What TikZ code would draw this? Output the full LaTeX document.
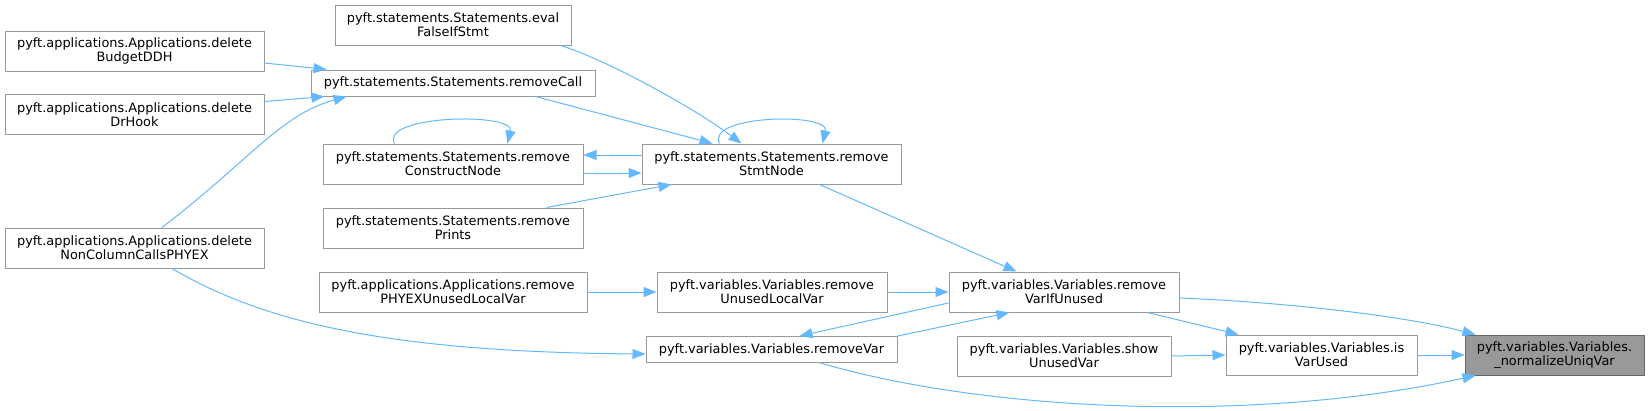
\documentclass[tikz,border=0pt]{standalone}
\usepackage{fontspec}
\setmainfont{DejaVu Sans}
\definecolor{dgedge}{RGB}{99,184,255}
\definecolor{dgborder}{RGB}{153,153,153}
\definecolor{dgdark}{RGB}{102,102,102}
\definecolor{dgfill}{RGB}{153,153,153}
\usetikzlibrary{arrows.meta,calc}

\begin{document}
\begin{tikzpicture}[x=1pt, y=-1pt,
    fn/.style={rectangle, draw=dgborder, fill=white, line width=1pt, inner sep=0pt,
      minimum height=40pt, align=center, font=\fontsize{12.9}{14}\selectfont},
    fnone/.style={fn, minimum height=26pt},
    arr/.style={-{Triangle[length=13pt, width=10pt]}, line width=1pt, dgedge}
  ]
    \useasboundingbox (0,0) rectangle (1649,410);

    % Callers, left to right
    \node[fn, minimum width=259pt]    (budget)      at (134.5,51)   {pyft.applications.Applications.delete\\BudgetDDH};
    \node[fn, minimum width=259pt]    (drhook)      at (134.5,114.5){pyft.applications.Applications.delete\\DrHook};
    \node[fn, minimum width=259pt]    (noncol)      at (134.5,248)  {pyft.applications.Applications.delete\\NonColumnCallsPHYEX};
    \node[fn, minimum width=236pt]    (evalfalse)   at (453,25)     {pyft.statements.Statements.eval\\FalseIfStmt};
    \node[fnone, minimum width=284pt] (rmcall)      at (453,83)     {pyft.statements.Statements.removeCall};
    \node[fn, minimum width=260pt]    (rmconstruct) at (453,164)    {pyft.statements.Statements.remove\\ConstructNode};
    \node[fn, minimum width=260pt]    (rmprints)    at (453,228)    {pyft.statements.Statements.remove\\Prints};
    \node[fn, minimum width=268pt]    (rmphyex)     at (453,292)    {pyft.applications.Applications.remove\\PHYEXUnusedLocalVar};
    \node[fn, minimum width=259pt]    (rmstmt)      at (771.5,164)  {pyft.statements.Statements.remove\\StmtNode};
    \node[fn, minimum width=230pt]    (rmlocal)     at (772,292)    {pyft.variables.Variables.remove\\UnusedLocalVar};
    \node[fnone, minimum width=251pt] (rmvar)       at (771.5,349.5){pyft.variables.Variables.removeVar};
    \node[fn, minimum width=230pt]    (rmifunused)  at (1064,292)   {pyft.variables.Variables.remove\\VarIfUnused};
    \node[fn, minimum width=214pt]    (showunused)  at (1064,356)   {pyft.variables.Variables.show\\UnusedVar};
    \node[fn, minimum width=191pt]    (isvarused)   at (1321.5,355) {pyft.variables.Variables.is\\VarUsed};
    \node[fn, minimum width=179pt, draw=dgdark, fill=dgfill] (normvar) at (1554.5,355) {pyft.variables.Variables.\\\_normalizeUniqVar};

    % Calls into removeCall
    \draw[arr] ($(budget.east)+(0,12)$) -- ($(rmcall.north west)+(16,0)$);
    \draw[arr] ($(drhook.east)+(0,-13)$) -- ($(rmcall.south west)+(14,0)$);
    \draw[arr] ($(noncol.north)+(27.5,0)$) .. controls (250,160) and (280,115) .. ($(rmcall.south west)+(36,0)$);
    \draw[arr] ($(noncol.south)+(37.5,0)$) .. controls (260,320) and (380,352) .. ($(rmvar.west)+(0,4.5)$);

    % Calls into removeStmtNode
    \draw[arr] ($(evalfalse.south east)+(-11,0)$) .. controls (600,57) and (690,105) .. ($(rmstmt.north west)+(100,0)$);
    \draw[arr] ($(rmcall.south east)+(-60,0)$) -- ($(rmstmt.north west)+(71,0)$);
    \draw[arr] ($(rmstmt.west)+(0,-9)$) -- ($(rmconstruct.east)+(0,-9)$);
    \draw[arr] ($(rmconstruct.east)+(0,9)$) -- ($(rmstmt.west)+(0,9)$);
    \draw[arr] ($(rmprints.north east)+(-37,0)$) -- ($(rmstmt.south west)+(30,0)$);
    \draw[arr] ($(rmstmt.north west)+(78,0)$) .. controls (705,115) and (830,112) .. ($(rmstmt.north west)+(181,0)$);
    \draw[arr] ($(rmconstruct.north west)+(72,0)$) .. controls (380,115) and (515,112) .. ($(rmconstruct.north west)+(185,0)$);

    % Variables chain
    \draw[arr] ($(rmstmt.south west)+(178,0)$) -- ($(rmifunused.north west)+(68,0)$);
    \draw[arr] (rmphyex.east) -- (rmlocal.west);
    \draw[arr] (rmlocal.east) -- (rmifunused.west);
    \draw[arr] ($(rmifunused.west)+(0,11)$) -- ($(rmvar.north)+(28,0)$);
    \draw[arr] (rmvar.north east) -- ($(rmifunused.south west)+(61,0)$);
    \draw[arr] ($(rmifunused.east)+(0,6)$) .. controls (1280,302) and (1400,315) .. ($(normvar.north west)+(11,0)$);
    \draw[arr] ($(rmifunused.south east)+(-32,0)$) -- ($(isvarused.north west)+(13,0)$);
    \draw[arr] (showunused.east) -- (isvarused.west);
    \draw[arr] (isvarused.east) -- (normvar.west);
    \draw[arr] ($(rmvar.south east)+(-77,0)$) .. controls (980,410) and (1250,425) .. ($(normvar.south west)+(11,0)$);
  \end{tikzpicture}
\end{document}
